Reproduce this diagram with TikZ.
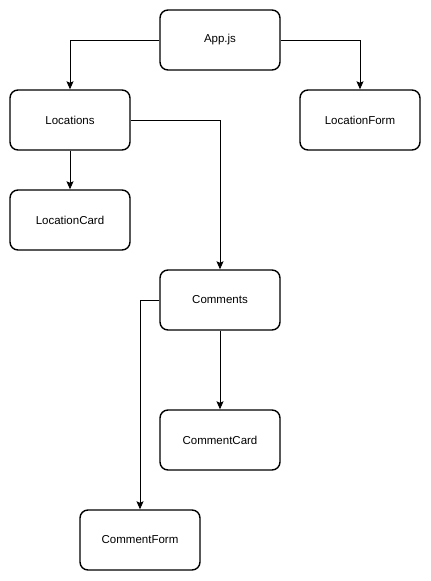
\documentclass[tikz,border=0pt]{standalone}
\usepackage{fontspec}
\setmainfont{Liberation Sans}
\usetikzlibrary{arrows.meta}

\begin{document}
\begin{tikzpicture}[x=1pt,y=-1pt]
\tikzstyle{comp} = [rectangle, draw=black, line width=1.4pt, fill=white,
minimum width=120pt, minimum height=60pt, rounded corners=8pt,
text centered, inner sep=0pt, font=\fontsize{11.5}{13}\selectfont]
\tikzstyle{line} = [draw, line width=0.9pt, -{Stealth[length=8pt,width=7pt,inset=1.5pt]}];
\useasboundingbox (0,0) rectangle (431,581);
% row 1
\node [comp] (app) at (220,40) {App.js};
% row 2
\node [comp] (locations) at (70,120) {Locations};
\node [comp] (locationform) at (360,120) {LocationForm};
\node [comp] (locationcard) at (70,220) {LocationCard};
% row 3
\node [comp] (comments) at (220,300) {Comments};
\node [comp] (commentcard) at (220,440) {CommentCard};
\node [comp] (commentform) at (140,540) {CommentForm};
\tikzstyle{every path}=[line]
\path (app) -| (locations);
\path (app) -| (locationform);
\path (locations) -- (locationcard);
\path (locations) -| (comments);
\path (comments) -- (commentcard);
\path (comments) -| (commentform);
\end{tikzpicture}
\end{document}
